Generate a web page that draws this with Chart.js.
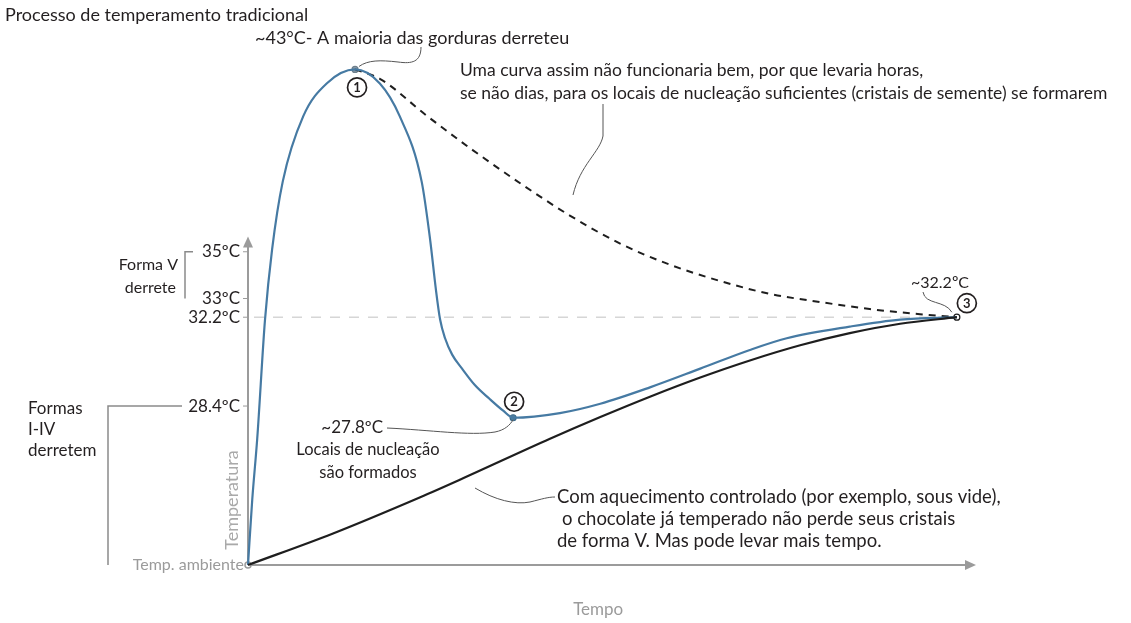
<!DOCTYPE html>
<html>
<head>
<meta charset="utf-8">
<script src="https://cdn.jsdelivr.net/npm/chart.js@4.4.1/dist/chart.umd.min.js"></script>
<style>
  html, body { margin: 0; padding: 0; background: #fff; }
  #wrap { width: 1131px; height: 623px; }
</style>
</head>
<body>
<div id="wrap"><canvas id="chart" width="1131" height="623"></canvas></div>
<script>
// temperatura ambiente (base do eixo)
const ambientTemp = 21.6;

// marcas do eixo Y
const tickTemps = [35, 33, 32.2, 28.4];
const tickLabels = ['35ºC', '33ºC', '32.2ºC', '28.4ºC'];

// curva azul: processo tradicional
const blueTime = [0, 0.6, 1.3, 2.4, 3.4, 4.9, 7.8, 11.1, 15.1, 18.6, 21.4, 24.5, 25.7, 26.5, 27.1, 27.8, 28.8, 30.2, 32.0, 34.1, 36.0, 37.4, 44.0, 49.7, 56.7, 63.8, 70.8, 76.0, 84.9, 92.0, 100];
const blueTemp = [21.6, 24.4, 27.0, 32.1, 35.1, 38.0, 40.8, 42.2, 42.8, 42.2, 40.8, 38.0, 35.5, 33.4, 32.1, 31.3, 30.6, 30.0, 29.3, 28.7, 28.2, 27.9, 28.1, 28.5, 29.2, 30.0, 30.8, 31.3, 31.8, 32.1, 32.2];

// curva tracejada: resfriamento lento
const dashTime = [15.1, 18.6, 25.3, 31.7, 38.8, 45.4, 52.5, 59.5, 66.6, 73.6, 80.7, 87.7, 94.8, 100];
const dashTemp = [42.8, 42.4, 40.8, 39.35, 37.85, 36.55, 35.35, 34.45, 33.75, 33.2, 32.85, 32.55, 32.33, 32.2];

// curva preta: aquecimento controlado
const blackTime = [0, 12.0, 24.3, 29.9, 42.6, 49.7, 56.7, 63.8, 70.8, 77.9, 84.9, 92.0, 100];
const blackTemp = [21.6, 22.95, 24.5, 25.25, 27.0, 27.93, 28.8, 29.62, 30.35, 31.0, 31.52, 31.92, 32.2];

// etapas 1, 2, 3
const stageTime = [15.1, 37.4, 100];
const stageTemp = [42.8, 27.9, 32.2];
const stageNames = ['1', '2', '3'];

const FONT = 'Lato, "Open Sans", sans-serif';
const INK = '#231f20';
const GREY = '#9b9b9b';

function toPoints(ts, vs) {
    return ts.map((t, i) => ({ x: t, y: vs[i] }));
}

function label(ctx, str, x, y, size, color, align) {
    ctx.font = size + 'px ' + FONT;
    ctx.fillStyle = color || INK;
    ctx.textAlign = align || 'left';
    ctx.textBaseline = 'middle';
    ctx.fillText(str, x, y);
}

function arrowHead(ctx, x, y, dir) {
    ctx.beginPath();
    if (dir === 'up') {
        ctx.moveTo(x, y); ctx.lineTo(x - 5, y + 11); ctx.lineTo(x + 5, y + 11);
    } else {
        ctx.moveTo(x, y); ctx.lineTo(x - 11, y - 5); ctx.lineTo(x - 11, y + 5);
    }
    ctx.closePath();
    ctx.fill();
}

function circled(ctx, str, cx, cy) {
    ctx.beginPath();
    ctx.arc(cx, cy, 9.5, 0, Math.PI * 2);
    ctx.fillStyle = '#fff';
    ctx.fill();
    ctx.lineWidth = 1.7;
    ctx.strokeStyle = INK;
    ctx.stroke();
    ctx.font = 'bold 13px ' + FONT;
    ctx.fillStyle = INK;
    ctx.textAlign = 'center';
    ctx.textBaseline = 'middle';
    ctx.fillText(str, cx, cy + 0.5);
}

const decor = {
    id: 'decor',
    beforeDatasetsDraw(chart) {
        const { ctx, scales: { x, y } } = chart;
        const x0 = x.getPixelForValue(0);
        const y0 = y.getPixelForValue(ambientTemp);
        ctx.save();

        // linha guia de 32.2
        const yg = y.getPixelForValue(32.2);
        ctx.strokeStyle = '#d6d6d6';
        ctx.lineWidth = 1.5;
        ctx.setLineDash([10, 9]);
        ctx.beginPath();
        ctx.moveTo(x0 + 6, yg);
        ctx.lineTo(x.getPixelForValue(100), yg);
        ctx.stroke();
        ctx.setLineDash([]);

        // eixos
        ctx.strokeStyle = GREY;
        ctx.fillStyle = GREY;
        ctx.lineWidth = 2;
        const yTop = y.getPixelForValue(35.65);
        const xEnd = x.getPixelForValue(x.max);
        ctx.beginPath();
        ctx.moveTo(x0, y0);
        ctx.lineTo(x0, yTop + 8);
        ctx.moveTo(x0, y0);
        ctx.lineTo(xEnd - 8, y0);
        ctx.stroke();
        arrowHead(ctx, x0, yTop, 'up');
        arrowHead(ctx, xEnd, y0, 'right');

        // marcas e rótulos do eixo Y
        ctx.lineWidth = 1;
        tickTemps.forEach((t, i) => {
            const py = y.getPixelForValue(t);
            ctx.strokeStyle = GREY;
            ctx.beginPath();
            ctx.moveTo(x0 - 5, py);
            ctx.lineTo(x0, py);
            ctx.stroke();
            label(ctx, tickLabels[i], x0 - 8, py, 17, INK, 'right');
        });

        // colchetes das formas
        const y35 = y.getPixelForValue(35);
        const y33 = y.getPixelForValue(33);
        const y28 = y.getPixelForValue(28.4);
        ctx.strokeStyle = '#8a8a8a';
        ctx.lineWidth = 1.5;
        ctx.beginPath();
        ctx.moveTo(193, y35); ctx.lineTo(185, y35); ctx.lineTo(185, y33);
        ctx.moveTo(182, y28); ctx.lineTo(108, y28); ctx.lineTo(108, y0);
        ctx.stroke();
        label(ctx, 'Forma V', 178, y35 + 13, 16, INK, 'right');
        label(ctx, 'derrete', 176, y35 + 36, 16, INK, 'right');
        label(ctx, 'Formas', 28, y28 + 2, 17, INK);
        label(ctx, 'I-IV', 28, y28 + 23, 17, INK);
        label(ctx, 'derretem', 28, y28 + 44, 17, INK);

        // títulos dos eixos
        label(ctx, 'Temp. ambiente', x0 - 4, y0, 16, GREY, 'right');
        label(ctx, 'Tempo', x.getPixelForValue(49.4), y0 + 45, 17, GREY, 'center');
        ctx.save();
        ctx.translate(x0 - 16, y0 - 65);
        ctx.rotate(-Math.PI / 2);
        label(ctx, 'Temperatura', 0, 0, 18, '#a9a9a9', 'center');
        ctx.restore();

        // origem
        ctx.beginPath();
        ctx.arc(x0, y0, 3, 0, Math.PI * 2);
        ctx.fillStyle = '#fff';
        ctx.fill();
        ctx.strokeStyle = GREY;
        ctx.lineWidth = 1.5;
        ctx.stroke();
        ctx.restore();
    },
    afterDraw(chart) {
        const { ctx, scales: { x, y } } = chart;
        ctx.save();
        const sx = stageTime.map(t => x.getPixelForValue(t));
        const sy = stageTemp.map(t => y.getPixelForValue(t));

        // números das etapas
        circled(ctx, stageNames[0], sx[0] + 2, sy[0] + 18);
        circled(ctx, stageNames[1], sx[1] + 1, sy[1] - 16);
        circled(ctx, stageNames[2], sx[2] + 10, sy[2] - 14);

        // textos
        label(ctx, 'Processo de temperamento tradicional', 5, 15, 18, INK);
        label(ctx, '~43°C- A maioria das gorduras derreteu', 255, 38, 18, INK);
        label(ctx, 'Uma curva assim não funcionaria bem, por que levaria horas,', 460, 70, 17.5, INK);
        label(ctx, 'se não dias, para os locais de nucleação suficientes (cristais de semente) se formarem', 460, 93, 17.5, INK);
        label(ctx, '~32.2ºC', 911, 283, 16, INK);
        label(ctx, '~27.8ºC', 383, 428, 17, INK, 'right');
        label(ctx, 'Locais de nucleação', 368, 450, 16.5, INK, 'center');
        label(ctx, 'são formados', 368, 473, 16.5, INK, 'center');
        label(ctx, 'Com aquecimento controlado (por exemplo, sous vide),', 557, 497, 18.5, INK);
        label(ctx, 'o chocolate já temperado não perde seus cristais', 562, 519, 18.5, INK);
        label(ctx, 'de forma V. Mas pode levar mais tempo.', 557, 541, 18.5, INK);

        // linhas de chamada
        ctx.strokeStyle = '#555';
        ctx.lineWidth = 1;
        ctx.beginPath();
        ctx.moveTo(421, 47);
        ctx.bezierCurveTo(421, 62, 412, 64, 398, 62);
        ctx.bezierCurveTo(380, 60, 368, 60, sx[0] + 4, sy[0] - 3);
        ctx.moveTo(603, 104);
        ctx.lineTo(603, 136);
        ctx.bezierCurveTo(600, 152, 580, 165, 573, 195);
        ctx.moveTo(923, 292);
        ctx.bezierCurveTo(925, 305, 945, 300, sx[2] - 5, sy[2] - 5);
        ctx.moveTo(387, 428);
        ctx.bezierCurveTo(430, 430, 470, 436, 495, 432);
        ctx.bezierCurveTo(505, 430, 510, 425, sx[1], sy[1] + 2);
        ctx.moveTo(475, 488);
        ctx.bezierCurveTo(495, 500, 515, 505, 530, 502);
        ctx.bezierCurveTo(542, 499, 548, 497, 555, 497);
        ctx.stroke();
        ctx.restore();
    }
};

new Chart(document.getElementById('chart'), {
    type: 'line',
    data: {
        datasets: [
            {
                data: toPoints(blackTime, blackTemp),
                borderColor: '#1e1e1e',
                borderWidth: 2.2,
                cubicInterpolationMode: 'monotone',
                pointRadius: 0
            },
            {
                data: toPoints(blueTime, blueTemp),
                borderColor: '#467aa3',
                borderWidth: 2.2,
                cubicInterpolationMode: 'monotone',
                pointRadius: 0
            },
            {
                data: toPoints(dashTime, dashTemp),
                borderColor: '#1e1e1e',
                borderWidth: 2,
                borderDash: [7, 6],
                cubicInterpolationMode: 'monotone',
                pointRadius: 0
            },
            {
                data: toPoints(stageTime, stageTemp),
                showLine: false,
                pointRadius: 3,
                pointBorderWidth: 1.2,
                pointBackgroundColor: ['#8a9aa6', '#4f7f9f', '#fff'],
                pointBorderColor: ['#6d7f8c', '#3d6a8a', '#1e1e1e']
            }
        ]
    },
    options: {
        responsive: false,
        animation: false,
        devicePixelRatio: 1,
        clip: false,
        layout: { padding: { left: 248, right: 155, top: 18, bottom: 58 } },
        plugins: { legend: { display: false }, tooltip: { enabled: false } },
        scales: {
            x: { type: 'linear', min: 0, max: 102.7, display: false },
            y: { type: 'linear', min: ambientTemp, max: 45, display: false }
        }
    },
    plugins: [decor]
});
</script>
</body>
</html>
